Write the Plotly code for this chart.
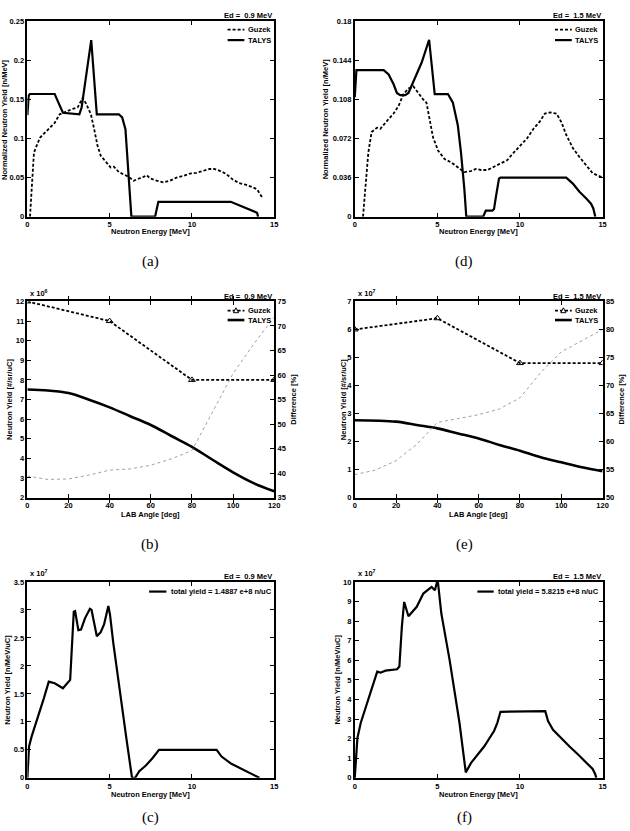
import plotly.graph_objects as go

W, H = 630, 831

# ---------------- data ----------------
# (a) Ed = 0.9 MeV, normalized spectra
a_talys_x = [0, 0.08, 0.15, 1.66, 1.76, 1.96, 2.16, 3.16, 3.3, 3.88, 4.22, 5.56, 5.76, 5.96, 6.06, 6.2, 6.32, 7.76, 7.86, 7.96, 12.36, 13.96, 14.02]
a_talys_y = [0.13, 0.155, 0.157, 0.157, 0.152, 0.143, 0.133, 0.131, 0.14, 0.226, 0.131, 0.131, 0.127, 0.112, 0.082, 0.04, 0.0, 0.0, 0.012, 0.019, 0.019, 0.005, 0.0]
a_guzek_x = [0.16, 0.4, 0.76, 1.06, 1.36, 1.66, 1.96, 2.36, 2.76, 3.06, 3.36, 3.56, 3.86, 4.06, 4.26, 4.46, 4.76, 5.06, 5.26, 5.56, 5.86, 6.16, 6.46, 6.76, 7.06, 7.26, 7.46, 7.86, 8.26, 8.66, 9.06, 9.46, 9.86, 10.26, 10.66, 11.06, 11.36, 11.66, 12.06, 12.46, 12.86, 13.26, 13.66, 13.96, 14.26]
a_guzek_y = [0.0, 0.082, 0.101, 0.107, 0.114, 0.12, 0.131, 0.135, 0.138, 0.14, 0.152, 0.145, 0.131, 0.112, 0.091, 0.078, 0.07, 0.063, 0.064, 0.057, 0.054, 0.051, 0.046, 0.048, 0.051, 0.053, 0.049, 0.046, 0.044, 0.046, 0.05, 0.052, 0.055, 0.056, 0.059, 0.061, 0.061, 0.059, 0.055, 0.048, 0.043, 0.041, 0.038, 0.035, 0.025]

# (d) Ed = 1.5 MeV, normalized spectra
d_talys_x = [0, 0.05, 0.1, 1.75, 2.05, 2.35, 2.55, 2.75, 3.05, 3.25, 3.55, 4.05, 4.5, 4.84, 5.64, 5.94, 6.24, 6.43, 6.63, 6.75, 7.77, 7.93, 8.33, 8.43, 8.53, 8.73, 8.82, 12.8, 13.2, 13.6, 14.0, 14.3, 14.44, 14.56]
d_talys_y = [0.11, 0.133, 0.135, 0.135, 0.131, 0.122, 0.114, 0.112, 0.112, 0.114, 0.124, 0.142, 0.163, 0.113, 0.113, 0.105, 0.084, 0.059, 0.026, 0.0, 0.0, 0.0055, 0.0055, 0.007, 0.017, 0.035, 0.036, 0.036, 0.0305, 0.023, 0.017, 0.012, 0.0076, 0.0]
d_guzek_x = [0.5, 0.66, 0.82, 1.02, 1.35, 1.55, 1.75, 2.05, 2.35, 2.65, 2.95, 3.25, 3.55, 3.84, 4.14, 4.34, 4.54, 4.74, 5.04, 5.44, 5.84, 6.24, 6.63, 7.03, 7.33, 7.63, 8.03, 8.43, 8.82, 9.22, 9.62, 10.02, 10.42, 10.82, 11.22, 11.51, 11.81, 12.21, 12.51, 12.81, 13.21, 13.6, 14.0, 14.4, 15.0]
d_guzek_y = [0.0, 0.029, 0.059, 0.078, 0.082, 0.081, 0.085, 0.09, 0.095, 0.102, 0.113, 0.118, 0.12, 0.114, 0.108, 0.105, 0.087, 0.073, 0.061, 0.053, 0.05, 0.045, 0.041, 0.042, 0.044, 0.043, 0.043, 0.046, 0.049, 0.052, 0.059, 0.066, 0.072, 0.081, 0.088, 0.095, 0.096, 0.095, 0.087, 0.075, 0.063, 0.055, 0.047, 0.04, 0.036]

# (b) Ed = 0.9 MeV, angular yields (x 10^6) and difference [%]
b_guzek_angle = [0, 40, 80, 120]
b_guzek_yield = [12.0, 11.0, 8.0, 8.0]
b_talys_angle = [0, 10, 20, 30, 40, 50, 60, 70, 80, 90, 100, 110, 120]
b_talys_yield = [7.51, 7.46, 7.33, 6.99, 6.6, 6.15, 5.7, 5.14, 4.59, 3.93, 3.29, 2.74, 2.32]
b_diff_angle = [0, 10, 20, 30, 40, 50, 60, 70, 80, 90, 100, 110, 120]
b_diff = [39.4, 38.7, 38.8, 39.6, 40.6, 40.85, 41.6, 42.9, 44.6, 52.3, 60.3, 66.3, 71.8]

# (e) Ed = 1.5 MeV, angular yields (x 10^7) and difference [%]
e_guzek_angle = [0, 40, 80, 120]
e_guzek_yield = [6.0, 6.4, 4.8, 4.8]
e_talys_angle = [0, 20, 30, 40, 50, 60, 70, 80, 90, 100, 110, 120]
e_talys_yield = [2.76, 2.71, 2.59, 2.47, 2.29, 2.11, 1.88, 1.67, 1.44, 1.26, 1.08, 0.94]
e_diff_angle = [0, 10, 20, 30, 40, 50, 60, 70, 80, 90, 100, 110, 120]
e_diff = [54.1, 54.9, 56.6, 59.5, 63.4, 64.1, 64.8, 65.8, 67.8, 72.3, 76.0, 78.0, 80.0]

# (c) Ed = 0.9 MeV, absolute spectrum (x 10^7)
c_x = [0, 0.1, 0.26, 0.66, 1.0, 1.3, 1.66, 2.16, 2.6, 2.82, 2.9, 3.1, 3.26, 3.5, 3.8, 3.9, 4.22, 4.45, 4.66, 4.92, 5.02, 5.22, 5.66, 6.0, 6.36, 6.55, 6.8, 7.2, 7.6, 8.0, 11.5, 11.8, 12.4, 13.3, 13.9, 14.1]
c_y = [0, 0.56, 0.74, 1.09, 1.42, 1.72, 1.69, 1.60, 1.75, 2.97, 2.98, 2.64, 2.65, 2.85, 3.02, 3.0, 2.53, 2.6, 2.74, 3.07, 2.92, 2.41, 1.44, 0.74, 0, 0, 0.12, 0.22, 0.35, 0.5, 0.5, 0.38, 0.25, 0.12, 0.04, 0]

# (f) Ed = 1.5 MeV, absolute spectrum (x 10^7)
f_x = [0, 0.16, 0.36, 0.76, 1.36, 1.56, 1.86, 2.56, 2.7, 2.85, 2.99, 3.25, 3.75, 4.15, 4.65, 4.85, 4.98, 5.04, 5.24, 5.74, 6.34, 6.72, 7.03, 7.83, 8.43, 8.63, 8.82, 11.53, 11.7, 12.0, 12.5, 13.0, 13.5, 14.0, 14.4, 14.55, 14.62]
f_y = [0, 2.03, 2.8, 3.81, 5.42, 5.37, 5.47, 5.54, 5.68, 7.71, 8.98, 8.25, 8.73, 9.41, 9.75, 9.58, 10.0, 9.95, 8.39, 6.02, 2.8, 0.28, 0.75, 1.6, 2.39, 2.81, 3.37, 3.4, 2.9, 2.45, 2.0, 1.6, 1.2, 0.8, 0.45, 0.2, 0]

# ticks
spec_x_ticks = [0, 5, 10, 15]
a_y_ticks = [0, 0.05, 0.1, 0.15, 0.2, 0.25]
a_y_text = ["0", "0.05", "0.1", "0.15", "0.2", "0.25"]
d_y_ticks = [0, 0.036, 0.072, 0.108, 0.144, 0.18]
d_y_text = ["0", "0.036", "0.072", "0.108", "0.144", "0.18"]
ang_x_ticks = [0, 20, 40, 60, 80, 100, 120]
b_y_ticks = [2, 3, 4, 5, 6, 7, 8, 9, 10, 11, 12]
b_y2_ticks = [35, 40, 45, 50, 55, 60, 65, 70, 75]
e_y_ticks = [0, 1, 2, 3, 4, 5, 6, 7]
e_y2_ticks = [50, 55, 60, 65, 70, 75, 80, 85]
c_y_ticks = [0, 0.5, 1, 1.5, 2, 2.5, 3, 3.5]
c_y_text = ["0", "0.5", "1", "1.5", "2", "2.5", "3", "3.5"]
f_y_ticks = [0, 1, 2, 3, 4, 5, 6, 7, 8, 9, 10]

# ---------------- layout helpers ----------------
def PX(x):
    return x / W

def PY(y):
    return 1 - y / H

FONT = "Liberation Sans, Arial, Helvetica, sans-serif"
SERIF = "Liberation Serif, Times New Roman, serif"
FS = 7.5
tickfont = dict(family=FONT, size=FS, color="black", weight="bold")

LX = (25.7, 275.7)
RX = (357.3, 608.3)
R1 = (17.5, 215.0)
R2 = (300.7, 499.0)
R3 = (584.3, 782.3)

def xax(dom, anchor, rng, tv):
    return dict(domain=[PX(dom[0]), PX(dom[1])], anchor=anchor, range=rng,
                tickvals=tv, ticktext=[str(v) for v in tv], tickfont=tickfont,
                showline=True, linecolor="black", linewidth=1.6, mirror="allticks",
                ticks="inside", ticklen=4, tickwidth=1, tickcolor="black",
                showgrid=False, zeroline=False, fixedrange=True)

def yax(dom, anchor, rng, tv, tt=None, mirror="allticks"):
    return dict(domain=[PY(dom[1]), PY(dom[0])], anchor=anchor, range=rng,
                tickvals=tv, ticktext=tt if tt else [str(v) for v in tv], tickfont=tickfont,
                showline=True, linecolor="black", linewidth=1.6, mirror=mirror,
                ticks="inside", ticklen=4, tickwidth=1, tickcolor="black",
                showgrid=False, zeroline=False, fixedrange=True)

fig = go.Figure()

TL = dict(color="black", width=2.2)
GZ = dict(color="black", width=1.8, dash="3px,2px")
DF = dict(color="#a0a0a0", width=1, dash="dot")
TRI = dict(symbol="triangle-up-open", size=6, color="black", line=dict(width=1, color="black"))

# (a)
fig.add_trace(go.Scatter(x=a_guzek_x, y=a_guzek_y, mode="lines", line=GZ, name="Guzek", xaxis="x", yaxis="y", showlegend=False))
fig.add_trace(go.Scatter(x=a_talys_x, y=a_talys_y, mode="lines", line=TL, name="TALYS", xaxis="x", yaxis="y", showlegend=False))
# (d)
fig.add_trace(go.Scatter(x=d_guzek_x, y=d_guzek_y, mode="lines", line=GZ, name="Guzek", xaxis="x2", yaxis="y2", showlegend=False))
fig.add_trace(go.Scatter(x=d_talys_x, y=d_talys_y, mode="lines", line=TL, name="TALYS", xaxis="x2", yaxis="y2", showlegend=False))
# (b)
fig.add_trace(go.Scatter(x=b_diff_angle, y=b_diff, mode="lines", line=DF, name="Difference", xaxis="x3", yaxis="y4", showlegend=False))
fig.add_trace(go.Scatter(x=b_guzek_angle, y=b_guzek_yield, mode="lines+markers", line=GZ, marker=TRI, name="Guzek", xaxis="x3", yaxis="y3", showlegend=False))
fig.add_trace(go.Scatter(x=b_talys_angle, y=b_talys_yield, mode="lines", line=dict(color="black", width=2.6, shape="spline"), name="TALYS", xaxis="x3", yaxis="y3", showlegend=False))
# (e)
fig.add_trace(go.Scatter(x=e_diff_angle, y=e_diff, mode="lines", line=DF, name="Difference", xaxis="x4", yaxis="y6", showlegend=False))
fig.add_trace(go.Scatter(x=e_guzek_angle, y=e_guzek_yield, mode="lines+markers", line=GZ, marker=TRI, name="Guzek", xaxis="x4", yaxis="y5", showlegend=False))
fig.add_trace(go.Scatter(x=e_talys_angle, y=e_talys_yield, mode="lines", line=dict(color="black", width=2.6, shape="spline"), name="TALYS", xaxis="x4", yaxis="y5", showlegend=False))
# (c)
fig.add_trace(go.Scatter(x=c_x, y=c_y, mode="lines", line=TL, name="total yield = 1.4887 e+8 n/uC", xaxis="x5", yaxis="y7", showlegend=False))
# (f)
fig.add_trace(go.Scatter(x=f_x, y=f_y, mode="lines", line=TL, name="total yield = 5.8215 e+8 n/uC", xaxis="x6", yaxis="y8", showlegend=False))

layout = dict(
    width=W, height=H, margin=dict(l=0, r=0, t=0, b=0),
    paper_bgcolor="white", plot_bgcolor="white", showlegend=False,
    xaxis=xax(LX, "y", [0, 15], spec_x_ticks),
    yaxis=yax(R1, "x", [0, 0.25], a_y_ticks, a_y_text),
    xaxis2=xax(RX, "y2", [0, 15], spec_x_ticks),
    yaxis2=yax(R1, "x2", [0, 0.18], d_y_ticks, d_y_text),
    xaxis3=xax(LX, "y3", [0, 120], ang_x_ticks),
    yaxis3=yax(R2, "x3", [2, 12], b_y_ticks, mirror=True),
    xaxis4=xax(RX, "y5", [0, 120], ang_x_ticks),
    yaxis5=yax(R2, "x4", [0, 7], e_y_ticks, mirror=True),
    xaxis5=xax(LX, "y7", [0, 15], spec_x_ticks),
    yaxis7=yax(R3, "x5", [0, 3.5], c_y_ticks, c_y_text),
    xaxis6=xax(RX, "y8", [0, 15], spec_x_ticks),
    yaxis8=yax(R3, "x6", [0, 10], f_y_ticks),
)
y4 = yax(R2, "x3", [35, 75], b_y2_ticks, mirror=False)
y4.update(overlaying="y3", side="right")
y6 = yax(R2, "x4", [50, 85], e_y2_ticks, mirror=False)
y6.update(overlaying="y5", side="right")
layout["yaxis4"] = y4
layout["yaxis6"] = y6
fig.update_layout(**layout)

ann = []
shapes = []
tfont = dict(family=FONT, size=FS, color="black", weight="bold")

def text(x, y, s, xanchor="center", yanchor="middle", angle=0, font=None):
    ann.append(dict(x=PX(x), y=PY(y), xref="paper", yref="paper", text=s, showarrow=False,
                    xanchor=xanchor, yanchor=yanchor, textangle=angle, font=font or tfont))

def keyline(x0, x1, y, dash=None, width=2):
    ln = dict(color="black", width=width)
    if dash:
        ln["dash"] = dash
    shapes.append(dict(type="line", xref="paper", yref="paper", x0=PX(x0), x1=PX(x1), y0=PY(y), y1=PY(y), line=ln))

def keytri(xc, yc, s=2.6):
    path = "M %f,%f L %f,%f L %f,%f Z" % (PX(xc - s), PY(yc + s * 0.8), PX(xc + s), PY(yc + s * 0.8), PX(xc), PY(yc - s * 1.1))
    shapes.append(dict(type="path", xref="paper", yref="paper", path=path, fillcolor="white", line=dict(color="black", width=1)))

cap_font = dict(family=SERIF, size=15, color="black")

for (x0, x1), (yt, yb), ed, ytitle, ytx, cap, capx, capy, xtoff in [
    (LX, R1, "0.9", "Normalized Neutron Yield [n/MeV]", 3, "(a)", 150, 260, 15),
    (RX, R1, "1.5", "Normalized Neutron Yield [n/MeV]", 328.5, "(d)", 468, 260, 15),
    (LX, R2, "0.9", "Neutron Yield [#/sr/uC]", 7.5, "(b)", 150, 546, 17),
    (RX, R2, "1.5", "Neutron Yield [#/sr/uC]", 346, "(e)", 468, 546, 17),
    (LX, R3, "0.9", "Neutron Yield [n/MeV/uC]", 6, "(c)", 150, 822, 17),
    (RX, R3, "1.5", "Neutron Yield [n/MeV/uC]", 340, "(f)", 468, 822, 17),
]:
    text(x1, yt - 5.5, "Ed =  %s MeV" % ed, xanchor="right")
    text(ytx, (yt + yb) / 2, ytitle, angle=-90)
    xt = "LAB Angle [deg]" if yt == R2[0] else "Neutron Energy [MeV]"
    text((x0 + x1) / 2, yb + xtoff, xt)
    text(capx, capy, cap, font=cap_font)

# right-axis titles (b, e)
text(295, (R2[0] + R2[1]) / 2, "Difference [%]", angle=-90)
text(627, (R2[0] + R2[1]) / 2, "Difference [%]", angle=-90)

# exponent labels
text(LX[0] + 1, R2[0] - 1.5, "x 10<sup>6</sup>", xanchor="left", yanchor="bottom")
text(RX[0] + 1, R2[0] - 1.5, "x 10<sup>7</sup>", xanchor="left", yanchor="bottom")
text(LX[0] + 1, R3[0] - 1.5, "x 10<sup>7</sup>", xanchor="left", yanchor="bottom")
text(RX[0] + 1, R3[0] - 1.5, "x 10<sup>7</sup>", xanchor="left", yanchor="bottom")

# legends (a, d)
for x0 in (LX[0], RX[0]):
    off = x0 - LX[0]
    keyline(228.5 + off, 245.5 + off, 26, dash="3px,2px", width=1.8)
    text(247 + off, 26, "Guzek", xanchor="left")
    keyline(228.5 + off, 245.5 + off, 36.5, width=2.2)
    text(247 + off, 36.5, "TALYS", xanchor="left")

# legends (b, e)
for x0 in (LX[0], RX[0]):
    off = x0 - LX[0]
    keyline(228.5 + off, 245.5 + off, 310, dash="3px,2px", width=1.8)
    keytri(237 + off, 310)
    text(247 + off, 310, "Guzek", xanchor="left")
    keyline(228.5 + off, 245.5 + off, 319.5, width=2.6)
    text(247 + off, 319.5, "TALYS", xanchor="left")

# legends (c, f)
keyline(149, 166.5, 594, width=2.2)
text(169.5, 594, "total yield = 1.4887 e+8 n/uC", xanchor="left")
keyline(481.5, 498, 594, width=2.2)
text(500.5, 594, "total yield = 5.8215 e+8 n/uC", xanchor="left")

fig.update_layout(annotations=ann, shapes=shapes)
fig.write_html("out.html")
